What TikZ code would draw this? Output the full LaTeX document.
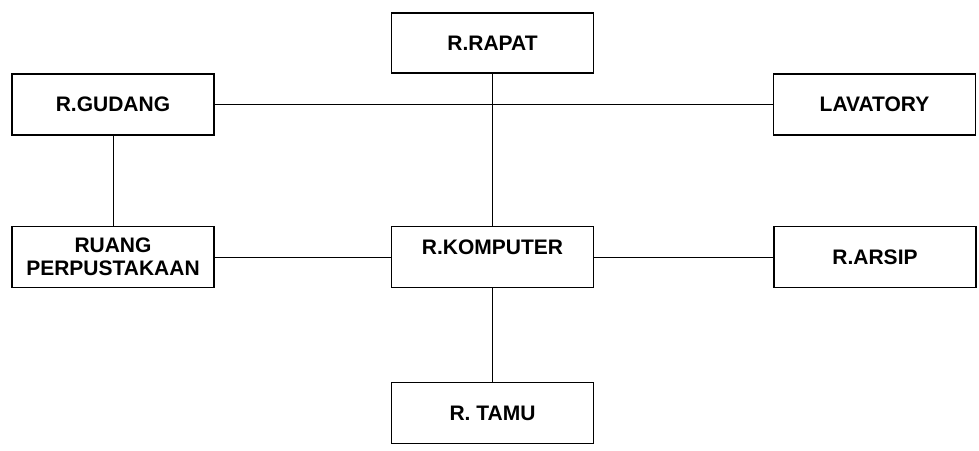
\documentclass[tikz,border=0pt]{standalone}
\usepackage{fontspec}
\setmainfont{Liberation Sans}
\begin{document}
\begin{tikzpicture}[x=1pt,y=-1pt,
  roombox/.style={draw=black,line width=1.2pt,rectangle,minimum width=202pt,minimum height=61pt,
    inner sep=2pt,align=center,font=\fontsize{21}{23}\selectfont\bfseries},
  link/.style={draw=black,line width=0.9pt}]
\useasboundingbox (0,0) rectangle (979,450);
\node[roombox,minimum height=60pt] (rapat) at (492.5,43) {R.RAPAT};
\node[roombox] (gudang) at (113,104.5) {R.GUDANG};
\node[roombox] (lav) at (874.5,104.5) {LAVATORY};
\node[roombox] (ruang) at (113,257) {RUANG\\PERPUSTAKAAN};
\node[roombox,text height=15pt,text depth=20pt] (komp) at (492.5,257) {R.KOMPUTER};
\node[roombox] (arsip) at (875,257) {R.ARSIP};
\node[roombox] (tamu) at (492.5,413) {R. TAMU};
\draw[link] (gudang.east) -- (lav.west);
\draw[link] (rapat.south) -- (komp.north);
\draw[link] (gudang.south) -- (ruang.north);
\draw[link] (ruang.east) -- (komp.west);
\draw[link] (komp.east) -- (arsip.west);
\draw[link] (komp.south) -- (tamu.north);
\end{tikzpicture}
\end{document}
